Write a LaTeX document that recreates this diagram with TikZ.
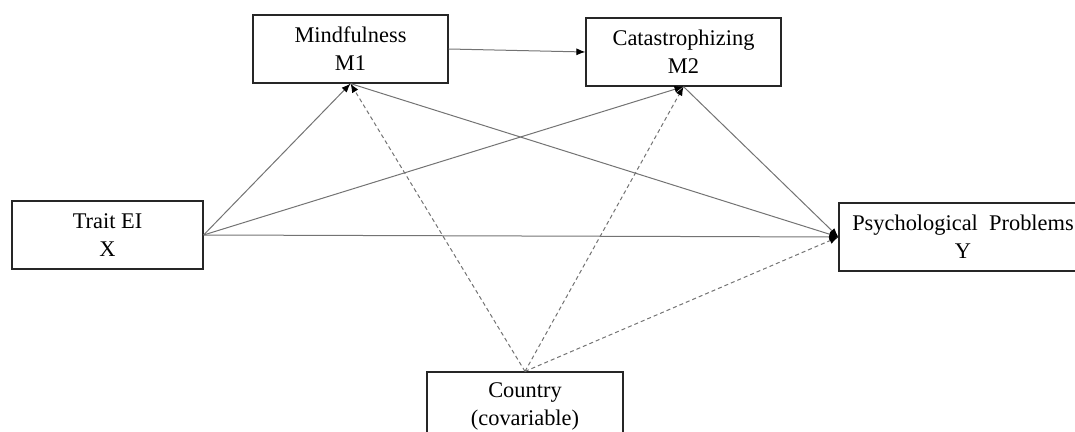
\documentclass[tikz,border=0pt]{standalone}
\usepackage{fontspec}
\setmainfont{Liberation Serif}
\usetikzlibrary{arrows.meta}
\begin{document}
\begin{tikzpicture}[x=0.5pt,y=-0.5pt,
  main node/.style={rectangle,draw=black!85,line width=0.6pt,align=center,inner sep=0pt,
    minimum height=34pt,font=\fontsize{11.2}{14}\selectfont},
  path line/.style={draw=black!55,line width=0.5pt,-{Latex[length=4.5pt,width=3.5pt,black]}},
  cov line/.style={path line,dash pattern=on 2pt off 1.5pt}]
  \clip (0,0) rectangle (1075,432);

  \node[main node,minimum width=95.5pt] (X) at (107.5,235) {Trait EI\\X};
  \node[main node,minimum width=97.5pt] (M1) at (350.5,49) {Mindfulness\\M1};
  \node[main node,minimum width=97.5pt] (M2) at (683.5,52) {Catastrophizing\\M2};
  \node[main node,minimum width=124pt] (Y) at (963,237) {Psychological~~Problems\\Y};
  \node[main node,minimum width=98pt] (C) at (525,406) {Country\\(covariable)};

  \path[every edge/.style={path line}]
   (X.east) edge (M1.south)
   (X.east) edge (M2.south)
   (X.east) edge (Y.west)
   (M1.east) edge (M2.west)
   (M1.south) edge (Y.west)
   (M2.south) edge (Y.west);
  \path[every edge/.style={cov line}]
   (C.north) edge (M1.south)
   (C.north) edge (M2.south)
   (C.north) edge (Y.west);
\end{tikzpicture}
\end{document}
